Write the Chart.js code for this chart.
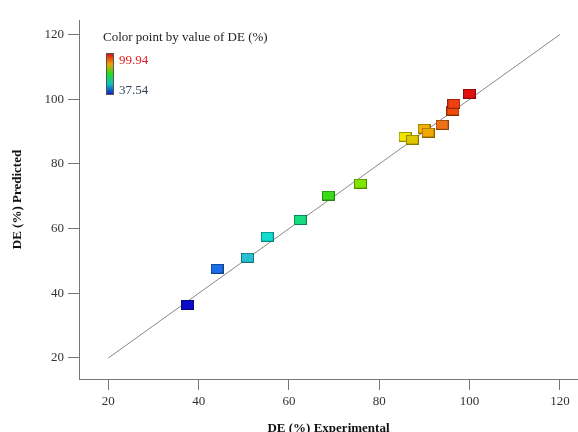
<!DOCTYPE html>
<html>
<head>
<meta charset="utf-8">
<script src="https://cdn.jsdelivr.net/npm/chart.js@4.4.1/dist/chart.umd.min.js"></script>
<style>
  html, body { margin: 0; padding: 0; background: #fff; }
  #wrap { position: relative; width: 578px; height: 432px; }
  #legend-title { position: absolute; left: 103px; top: 29px; font: 13px "Liberation Serif", serif; color: #222; white-space: nowrap; }
  #legend-bar { position: absolute; left: 106px; top: 53px; width: 6px; height: 40px;
    background: linear-gradient(to bottom, #e01010, #f0a000, #20e020, #10c0c0, #1020d0); border: 1px solid #555; }
  #legend-max { position: absolute; left: 119px; top: 52px; font: 13px "Liberation Serif", serif; color: #e02020; }
  #legend-min { position: absolute; left: 119px; top: 82px; font: 13px "Liberation Serif", serif; color: #334455; }
</style>
</head>
<body>
<div id="wrap">
  <canvas id="chart" width="578" height="432"></canvas>
  <div id="legend-title">Color point by value of DE (%)</div>
  <div id="legend-bar"></div>
  <div id="legend-max">99.94</div>
  <div id="legend-min">37.54</div>
</div>
<script>
// Experimental vs predicted DE (%)
const experimental = [37.54, 44.1, 50.8, 55.2, 62.5, 68.7, 75.8, 85.7, 87.3, 89.9, 90.8, 93.9, 96.3, 96.5, 99.94];
const predicted    = [36.4, 47.6, 51.0, 57.5, 62.7, 70.2, 73.9, 88.4, 87.5, 90.9, 89.7, 92.1, 96.5, 98.6, 101.7];
const pointColors  = ['#0a0ac8', '#1a6ee6', '#28c0d0', '#10dcd0', '#18dc80', '#38dc18', '#80e600',
                      '#f0e600', '#e0c800', '#f0b000', '#f0a800', '#f07018', '#f04c08', '#f04010', '#e01010'];
const tickValues = [20, 40, 60, 80, 100, 120];
const lineEnds = [20, 120];

function darken(hex) {
  const n = parseInt(hex.slice(1), 16);
  const r = Math.round(((n >> 16) & 255) * 0.6);
  const g = Math.round(((n >> 8) & 255) * 0.6);
  const b = Math.round((n & 255) * 0.6);
  return `rgb(${r},${g},${b})`;
}

// rectangular marker images
function makeRect(color) {
  const c = document.createElement('canvas');
  c.width = 13; c.height = 10;
  const g = c.getContext('2d');
  g.fillStyle = color;
  g.fillRect(0, 0, 13, 10);
  g.strokeStyle = darken(color);
  g.lineWidth = 1;
  g.strokeRect(0.5, 0.5, 12, 9);
  return c;
}

const points = experimental.map((x, i) => ({ x: x, y: predicted[i] }));
const markers = pointColors.map(makeRect);

const serif = '"Liberation Serif", "Times New Roman", serif';

function axis(titleText, isY) {
  return {
    type: 'linear',
    min: 13.5,
    max: isY ? 124.5 : 124,
    afterBuildTicks: s => { s.ticks = tickValues.map(v => ({ value: v })); },
    afterFit: s => {
      if (isY) {
        s.width = 79;
      } else {
        s.height = 53;
        s.paddingLeft = 0;
        s.paddingRight = 0;
      }
    },
    border: { display: true, color: '#777', width: 1 },
    grid: { drawOnChartArea: false, drawTicks: true, tickLength: 11, color: '#777' },
    ticks: { color: '#333', padding: 4, font: { family: serif, size: 13 } },
    title: {
      display: true,
      text: titleText,
      color: '#111',
      font: { family: serif, size: 13, weight: 'bold' },
      padding: isY ? { top: 10, bottom: 0 } : { top: 0, bottom: -4 }
    }
  };
}

new Chart(document.getElementById('chart'), {
  type: 'scatter',
  data: {
    datasets: [
      {
        label: 'fit',
        data: lineEnds.map(v => ({ x: v, y: v })),
        showLine: true,
        borderColor: '#888',
        borderWidth: 1,
        pointRadius: 0,
        order: 2
      },
      {
        label: 'DE',
        data: points,
        pointStyle: markers,
        pointRadius: 6,
        order: 1
      }
    ]
  },
  options: {
    responsive: false,
    animation: false,
    layout: { autoPadding: false, padding: { top: 20, right: 0, left: 0, bottom: 0 } },
    plugins: { legend: { display: false }, tooltip: { enabled: false } },
    scales: {
      x: axis('DE (%) Experimental', false),
      y: axis('DE (%) Predicted', true)
    }
  }
});
</script>
</body>
</html>
